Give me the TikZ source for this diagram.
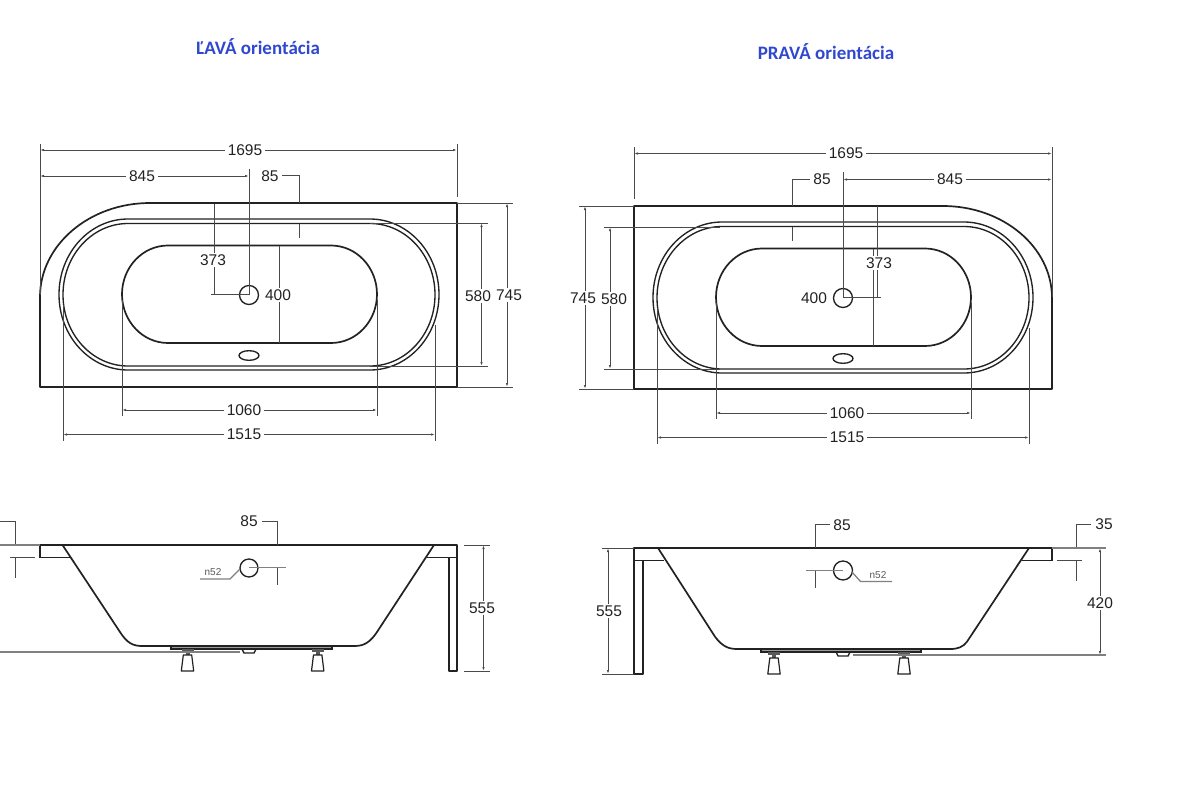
\documentclass[tikz,border=0pt]{standalone}
\usepackage{fontspec}
\setmainfont{Liberation Sans}
\newfontfamily\titlefont{Carlito}
\usetikzlibrary{arrows.meta}
\definecolor{dimgrey}{HTML}{4A4A4A}
\definecolor{inkc}{HTML}{222222}
\definecolor{titleblue}{HTML}{3048D0}
\tikzset{
  x=1pt,y=-1pt,
  thick line/.style={draw=inkc,line width=1.7pt,line join=round},
  rim line/.style={draw=inkc,line width=1.35pt},
  thin line/.style={draw=dimgrey,line width=1pt},
  grey line/.style={draw=black!50,line width=1.3pt},
  dimline/.style={thin line,{Latex[length=4pt,width=2.4pt]}-{Latex[length=4pt,width=2.4pt]}},
  dimlabel/.style={fill=white,inner xsep=3pt,inner ysep=1.5pt,text=inkc,font=\fontsize{15.5}{16}\selectfont},
  smalllabel/.style={inner sep=0pt,text=black!65,font=\fontsize{10}{11}\selectfont},
  titlelabel/.style={inner sep=0pt,text=titleblue,font=\titlefont\bfseries\fontsize{19}{21}\selectfont},
}
\newcommand{\stadpath}[5]{(#1,#3) -- (#2,#3) arc[start angle=270,end angle=450,x radius=#4,y radius=#5] -- (#1,{#3+2*#5}) arc[start angle=90,end angle=270,x radius=#4,y radius=#5] -- cycle}
\newcommand{\bathplan}{%
  \draw[rim line] \stadpath{128}{370}{219}{69}{75.5};
  \draw[rim line] \stadpath{128}{370}{223.5}{65}{71.25};
  \draw[thick line] \stadpath{168}{331}{245.5}{46}{48.75};
  \draw[rim line,draw=inkc] (249,295) circle[radius=9.5];
  \draw[rim line,draw=inkc] (249,355.5) ellipse[x radius=10,y radius=4.8];
  \draw[dimline] (122,410) -- (377,410);
  \draw[thin line] (122,300) -- (122,416);
  \draw[thin line] (377,300) -- (377,416);
  \draw[dimline] (63,434.5) -- (435,434.5);
  \draw[thin line] (63,305) -- (63,441);
  \draw[thin line] (435,325) -- (435,441);
  \draw[thin line] (279,245.5) -- (279,343);
}
\newcommand{\bathfoot}[2]{%
  \fill[inkc!75] (#1-6,#2) rectangle (#1+6,#2+3);
  \fill[inkc!75] (#1-2,#2+3) rectangle (#1+2,#2+6);
  \draw[draw=inkc,line width=1.2pt,line join=round] (#1-4.2,#2+6) -- (#1+4.2,#2+6) -- (#1+6.2,#2+22) -- (#1-6.2,#2+22) -- cycle;
}
\begin{document}
\begin{tikzpicture}
\useasboundingbox (0,0) rectangle (1200,792);
\fill[white] (0,0) rectangle (1200,792);

\node[titlelabel] (titleL) at (258,47) {ĽAVÁ orientácia};
\node[titlelabel] (titleR) at (826,52) {PRAVÁ orientácia};

%% ---------- left plan
\draw[thick line] (150,203) arc[start angle=270,end angle=180,x radius=110,y radius=94] -- (40,387) -- (457,387) -- (457,203) -- cycle;
\bathplan
\draw[dimline] (40,150) -- (457,150);
\draw[thin line] (40,144) -- (40,295);
\draw[thin line] (457,144) -- (457,197);
\draw[dimline] (40,176) -- (249,176);
\draw[thin line] (249,169) -- (249,295);
\draw[thin line] (282,175) -- (299,175) -- (299,203);
\draw[thin line] (299,224) -- (299,238);
\draw[thin line] (214.5,204) -- (214.5,294);
\draw[thin line] (211,294) -- (249,294);
\draw[thin line] (370,223) -- (488,223);
\draw[thin line] (370,366) -- (488,366);
\draw[dimline] (481.5,223) -- (481.5,366);
\draw[thin line] (457,203) -- (513,203);
\draw[thin line] (457,387) -- (513,387);
\draw[dimline] (507,203) -- (507,387);
\node[dimlabel] (a1695) at (245,150) {1695};
\node[dimlabel] (a845) at (142,176) {845};
\node[dimlabel] (a85) at (270,176) {85};
\node[dimlabel] (a373) at (213,260) {373};
\node[dimlabel] (a400) at (278,295) {400};
\node[dimlabel] (a580) at (478,296) {580};
\node[dimlabel] (a745) at (509,295) {745};
\node[dimlabel] (a1060) at (244,410) {1060};
\node[dimlabel] (a1515) at (244,434) {1515};

%% ---------- right plan
\draw[thick line] (943,206) arc[start angle=270,end angle=360,x radius=109,y radius=92] -- (1052,389) -- (634,389) -- (634,206) -- cycle;
\begin{scope}[shift={(594,3)}]
\bathplan
\end{scope}
\draw[dimline] (634,153.5) -- (1052,153.5);
\draw[thin line] (634,147) -- (634,199);
\draw[thin line] (1052,147) -- (1052,297);
\draw[dimline] (843,179.5) -- (1052,179.5);
\draw[thin line] (843,172) -- (843,298);
\draw[thin line] (810,179) -- (792,179) -- (792,206);
\draw[thin line] (792,227) -- (792,241);
\draw[thin line] (877.5,206) -- (877.5,297);
\draw[thin line] (843,297) -- (881,297);
\draw[thin line] (604,227) -- (720,227);
\draw[thin line] (604,369) -- (720,369);
\draw[dimline] (610,227) -- (610,369);
\draw[thin line] (579,206) -- (634,206);
\draw[thin line] (579,389) -- (634,389);
\draw[dimline] (585,206) -- (585,389);
\node[dimlabel] (b1695) at (846,153) {1695};
\node[dimlabel] (b845) at (950,179) {845};
\node[dimlabel] (b85) at (822,179) {85};
\node[dimlabel] (b373) at (879,263) {373};
\node[dimlabel] (b400) at (814,298) {400};
\node[dimlabel] (b580) at (614,299) {580};
\node[dimlabel] (b745) at (583,298) {745};
\node[dimlabel] (b1060) at (847,413) {1060};
\node[dimlabel] (b1515) at (847,437) {1515};

%% ---------- left elevation
\draw[thick line] (40,557.5) -- (40,545) -- (457,545) -- (457,671) -- (449,671) -- (449,557.5);
\draw[thick line] (40,557.5) -- (70,557.5);
\draw[rim line] (427,557.5) -- (457,557.5);
\draw[thick line] (62.5,545) -- (120,632) .. controls (127,643) and (133,646) .. (142,646) -- (355,646) .. controls (365,646) and (371,641) .. (377,632) -- (434,545);
\draw[rim line,fill=inkc!45] (171,646) rectangle (332,649);
\draw[rim line] (242,649) -- (244,653) -- (254,653) -- (256,649);
\bathfoot{187.5}{649}
\bathfoot{317.7}{649}
\draw[grey line] (0,652) -- (240,652);
\draw[thin line] (0,521) -- (15,521) -- (15,545);
\draw[grey line] (0,545) -- (40,545);
\draw[thin line] (10,557) -- (35,557);
\draw[thin line] (15,557) -- (15,578);
\draw[thin line] (262,521) -- (277,521) -- (277,545);
\draw[rim line] (249,568) circle[radius=9];
\draw[grey line] (249,567.5) -- (286,567.5);
\draw[thin line] (277,567.5) -- (277,585);
\draw[grey line] (200,579) -- (230,579) -- (240,569);
\draw[thin line] (464,545) -- (490,545);
\draw[thin line] (464,671) -- (490,671);
\draw[dimline] (483.5,545) -- (483.5,671);
\node[dimlabel] (c85) at (249,521) {85};
\node[dimlabel] (c555) at (482,608) {555};
\node[dimlabel,anchor=east,fill=none] (c420) at (4,600) {420};
\node[smalllabel] (cn52) at (213,572.5) {n52};

%% ---------- right elevation
\draw[thick line] (1052,560.5) -- (1052,548) -- (634,548) -- (634,674) -- (643,674) -- (643,560.5);
\draw[thick line] (1022,560.5) -- (1052,560.5);
\draw[rim line] (634,560.5) -- (664,560.5);
\draw[thick line] (658,548) -- (715,636.7) .. controls (722,646) and (728,649) .. (737,649) -- (950,649) .. controls (958,649) and (963,647) .. (967,641.7) -- (1029,548);
\draw[rim line,fill=inkc!45] (761,649) rectangle (921,652);
\draw[rim line] (836,652) -- (838,656) -- (848,656) -- (850,652);
\bathfoot{774}{652}
\bathfoot{904}{652}
\draw[grey line] (853,655) -- (1106,655);
\draw[thin line] (831,524) -- (815,524) -- (815,548);
\draw[rim line] (843,570.5) circle[radius=9.5];
\draw[grey line] (806,570.5) -- (843,570.5);
\draw[thin line] (815,570.5) -- (815,588);
\draw[grey line] (852,572) -- (860.5,581.5) -- (892,581.5);
\draw[thin line] (1091,524) -- (1076,524) -- (1076,548);
\draw[grey line] (1052,548) -- (1106,548);
\draw[thin line] (1057,560.5) -- (1082,560.5);
\draw[thin line] (1076,560.5) -- (1076,581);
\draw[dimline] (1100,548) -- (1100,655);
\draw[thin line] (602,548) -- (634,548);
\draw[thin line] (602,674) -- (634,674);
\draw[dimline] (608,548) -- (608,674);
\node[dimlabel] (d85) at (842,525) {85};
\node[dimlabel] (d35) at (1104,524.5) {35};
\node[dimlabel] (d420) at (1100,603) {420};
\node[dimlabel] (d555) at (609,611) {555};
\node[smalllabel] (dn52) at (878,575) {n52};
\end{tikzpicture}
\end{document}
